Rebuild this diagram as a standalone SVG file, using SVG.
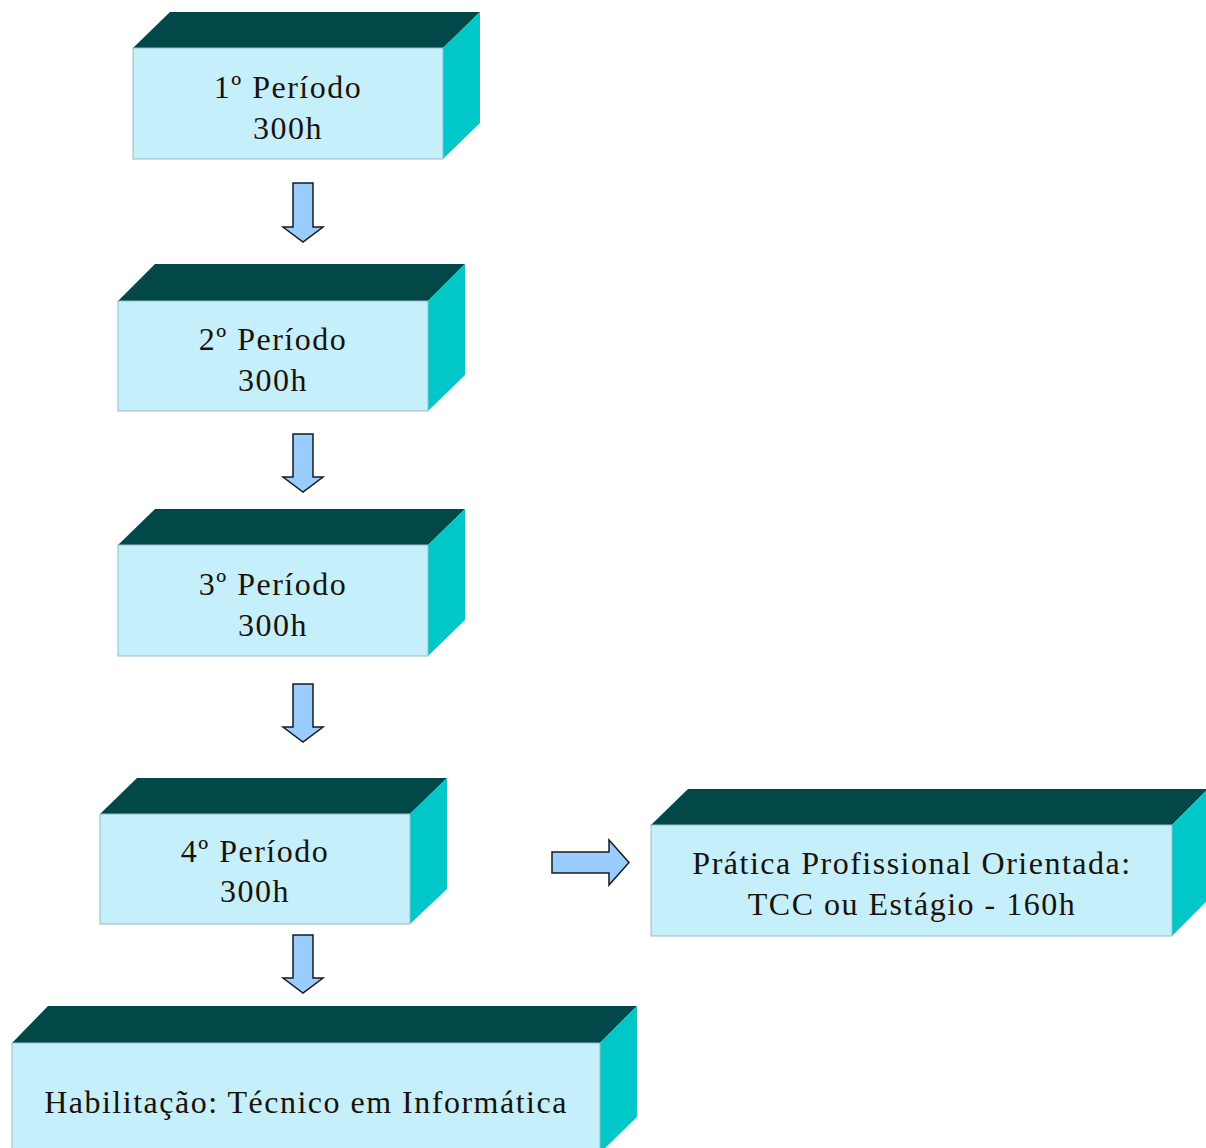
<svg xmlns="http://www.w3.org/2000/svg" width="1206" height="1148" viewBox="0 0 1206 1148">
<style>
.top{fill:#024848}
.side{fill:#00C8C8}
.front{fill:#C6EFFC;stroke:#9FB8C0;stroke-width:1}
.lbl{font-family:"Liberation Serif","Times New Roman",serif;font-size:32px;letter-spacing:1.5px;fill:#1a1208;text-anchor:middle}
.arr{fill:#99CCFF;stroke:#1a1a1a;stroke-width:1.5;stroke-linejoin:miter}
</style>
<rect width="1206" height="1148" fill="#ffffff"/>
<g id="p1">
<polygon class="top" points="133,48 170,12 480,12 443,48"/>
<polygon class="side" points="443,48 480,12 480,123 443,159"/>
<rect class="front" x="133" y="48" width="310" height="111"/>
<text class="lbl" x="288" y="98">1º Período</text>
<text class="lbl" x="288" y="139">300h</text>
</g>
<g id="p2">
<polygon class="top" points="118,301 155,264 465,264 428,301"/>
<polygon class="side" points="428,301 465,264 465,375 428,411"/>
<rect class="front" x="118" y="301" width="310" height="110"/>
<text class="lbl" x="273" y="350">2º Período</text>
<text class="lbl" x="273" y="391">300h</text>
</g>
<g id="p3">
<polygon class="top" points="118,545 155,509 465,509 428,545"/>
<polygon class="side" points="428,545 465,509 465,620 428,656"/>
<rect class="front" x="118" y="545" width="310" height="111"/>
<text class="lbl" x="273" y="595">3º Período</text>
<text class="lbl" x="273" y="636">300h</text>
</g>
<g id="p4">
<polygon class="top" points="100,814 137,778 447,778 410,814"/>
<polygon class="side" points="410,814 447,778 447,889 410,924"/>
<rect class="front" x="100" y="814" width="310" height="110"/>
<text class="lbl" x="255" y="862">4º Período</text>
<text class="lbl" x="255" y="902">300h</text>
</g>
<g id="pratica">
<polygon class="top" points="651,825 688,789 1208,789 1172,825"/>
<polygon class="side" points="1172,825 1208,789 1208,900 1172,936"/>
<rect class="front" x="651" y="825" width="521" height="111"/>
<text class="lbl" x="912" y="874">Prática Profissional Orientada:</text>
<text class="lbl" x="912" y="915">TCC ou Estágio - 160h</text>
</g>
<g id="habilitacao">
<polygon class="top" points="12,1043 48,1006 637,1006 600,1043"/>
<polygon class="side" points="600,1043 637,1006 637,1117 600,1153"/>
<rect class="front" x="12" y="1043" width="588" height="110"/>
<text class="lbl" x="306" y="1113">Habilitação: Técnico em Informática</text>
</g>
<g id="connectors">
<polygon class="arr" points="293,183 313,183 313,227 323,227 303,242 283,227 293,227"/>
<polygon class="arr" points="293,434 313,434 313,477 323,477 303,492 283,477 293,477"/>
<polygon class="arr" points="293,684 313,684 313,727 323,727 303,742 283,727 293,727"/>
<polygon class="arr" points="293,935 313,935 313,978 323,978 303,993 283,978 293,978"/>
<polygon class="arr" points="552,852 609,852 609,840 629,862.5 609,885 609,873 552,873"/>
</g>
</svg>
